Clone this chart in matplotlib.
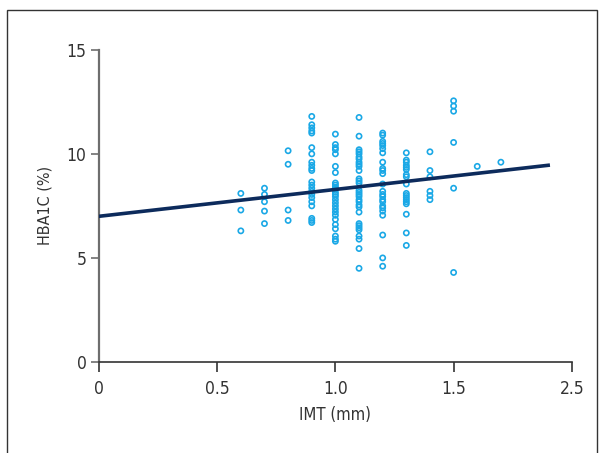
import matplotlib
matplotlib.use("Agg")
import matplotlib.pyplot as plt
from matplotlib.patches import Rectangle

plt.rcParams['font.family'] = ['DejaVu Sans']
plt.rcParams['font.stretch'] = 'condensed'

# IMT groups (mm) and the HbA1c readings (%) measured in each
imt_groups = [0.6, 0.7, 0.8, 0.9, 1.0, 1.1, 1.2, 1.3, 1.4, 1.5, 1.6, 1.7]
hba1c_by_group = [
    [8.1, 7.3, 6.3],
    [8.35, 8.05, 7.7, 7.25, 6.65],
    [10.15, 9.5, 7.3, 6.8],
    [11.8, 11.4, 11.25, 11.1, 11.0, 10.3, 10.0, 9.6, 9.45, 9.3, 9.2,
     8.65, 8.5, 8.35, 8.2, 8.05, 7.9, 7.7, 7.5, 6.9, 6.8, 6.7],
    [10.95, 10.45, 10.3, 10.2, 10.0, 9.4, 9.1, 8.6, 8.5, 8.4, 8.3, 8.15, 8.05,
     7.95, 7.8, 7.65, 7.5, 7.35, 7.2, 7.05, 6.85, 6.6, 6.4, 6.05, 5.9, 5.8],
    [11.75, 10.85, 10.2, 10.1, 10.0, 9.85, 9.75, 9.6, 9.5, 9.4, 9.2, 8.8,
     8.7, 8.6, 8.25, 8.15, 8.05, 7.95, 7.8, 7.7, 7.55, 7.45, 7.2, 6.65, 6.55,
     6.45, 6.35, 6.05, 5.9, 5.45, 4.5],
    [11.0, 10.9, 10.6, 10.5, 10.4, 10.25, 10.05, 9.6, 9.3, 9.2, 9.05, 8.55,
     8.2, 8.05, 7.95, 7.8, 7.7, 7.5, 7.4, 7.25, 7.05, 6.1, 5.0, 4.6],
    [10.05, 9.7, 9.6, 9.45, 9.35, 9.25, 9.0, 8.9, 8.55, 8.1, 8.0, 7.9, 7.8,
     7.7, 7.6, 7.1, 6.2, 5.6],
    [10.1, 9.2, 8.9, 8.2, 8.0, 7.8],
    [12.55, 12.3, 12.05, 10.55, 8.35, 4.3],
    [9.4],
    [9.6],
]

# regression line
fit_x = [0.0, 1.9]
intercept = 7.0
slope = 1.29

x_ticks = [0, 0.5, 1.0, 1.5, 2.0]
x_tick_labels = ['0', '0.5', '1.0', '1.5', '2.5']
y_ticks = [0, 5, 10, 15]

imt = [g for g, vals in zip(imt_groups, hba1c_by_group) for _ in vals]
hba1c = [v for vals in hba1c_by_group for v in vals]

fig = plt.figure(figsize=(6.0, 4.53), dpi=100)
ax = fig.add_axes([0.165, 0.201, 0.788, 0.689])

# outer frame around the whole figure
fig.patches.append(Rectangle((7 / 600, -0.05), 590 / 600, 1.05 - 10 / 453,
                             transform=fig.transFigure, fill=False,
                             edgecolor='#333333', linewidth=1.0))

ax.scatter(imt, hba1c, s=14, facecolors='none', edgecolors='#1aa8e6',
           linewidths=1.2, zorder=3)
ax.plot(fit_x, [intercept + slope * x for x in fit_x], color='#0d2b5c',
        linewidth=2.6, zorder=4)

ax.set_xlim(0, 2.0)
ax.set_ylim(0, 15)
ax.set_xticks(x_ticks)
ax.set_xticklabels(x_tick_labels)
ax.set_yticks(y_ticks)

for side in ['top', 'right']:
    ax.spines[side].set_visible(False)
ax.spines['left'].set_color('#6e6e6e')
ax.spines['left'].set_linewidth(1.6)
ax.spines['bottom'].set_color('#333333')
ax.spines['bottom'].set_linewidth(1.2)

ax.tick_params(axis='x', direction='out', length=7, width=1.2,
               color='#333333', labelsize=12.5, labelcolor='#333333', pad=6)
ax.tick_params(axis='y', direction='out', length=6, width=1.2,
               color='#6e6e6e', labelsize=12.5, labelcolor='#333333', pad=3)

ax.set_xlabel('IMT (mm)', fontsize=12, color='#333333', labelpad=6)
ax.set_ylabel('HBA1C (%)', fontsize=11.5, color='#333333', labelpad=10)

fig.savefig('out.png', dpi=100)
